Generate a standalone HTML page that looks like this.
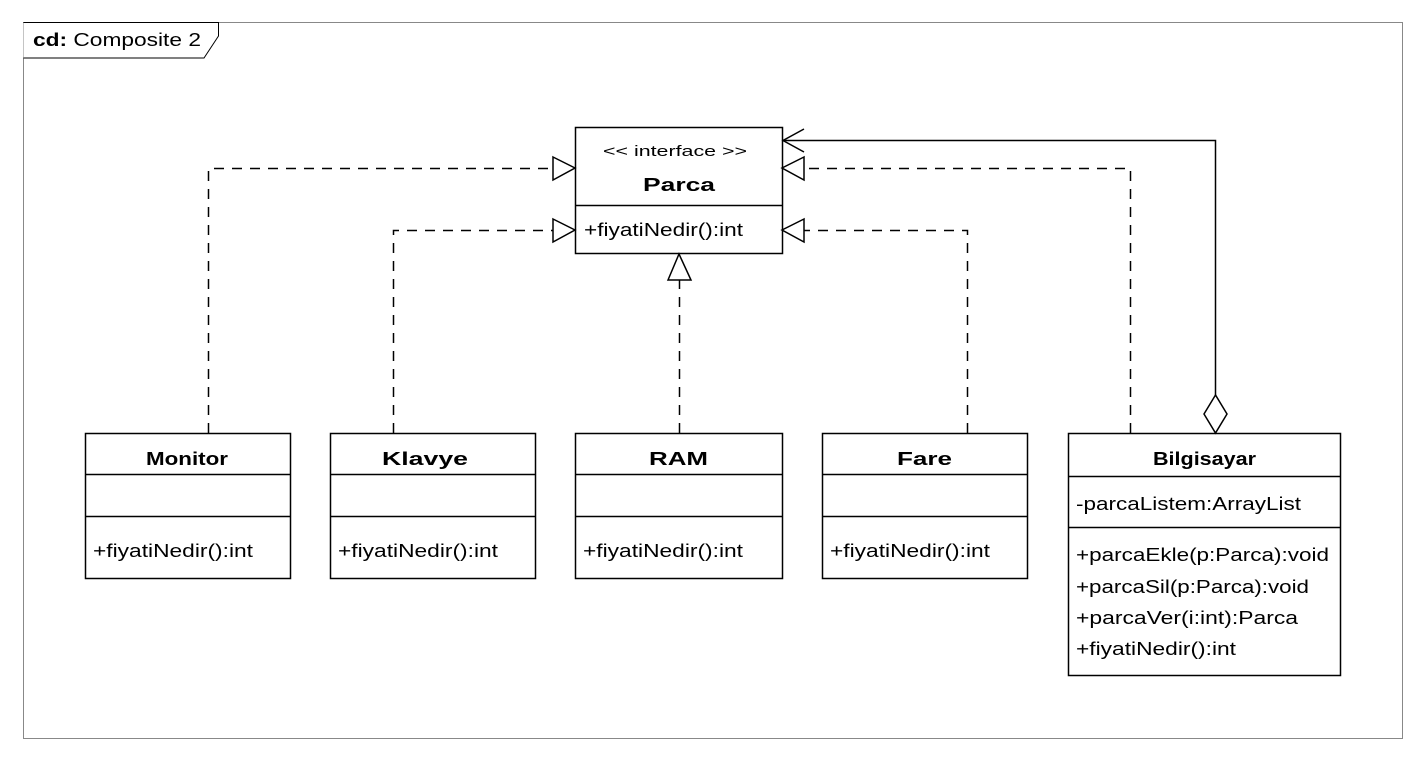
<!DOCTYPE html>
<html><head><meta charset="utf-8"><style>
body{margin:0;background:#fff}
text{font-family:"Liberation Sans",sans-serif;font-size:18px;fill:#000}
.b{font-weight:bold}
</style></head><body>
<svg width="1426" height="760" xmlns="http://www.w3.org/2000/svg">
<rect x="23.5" y="22.5" width="1379" height="716" fill="none" stroke="#888"/>
<path d="M23.5 22.5H218.5V36L204 58H23.5" fill="#fff" stroke="#000"/>
<text x="33" y="46" textLength="168" lengthAdjust="spacingAndGlyphs"><tspan class="b">cd:</tspan> Composite 2</text>
<g fill="#fff" stroke="#000" stroke-width="1.5">
<rect x="575.5" y="127.5" width="207" height="126"/>
<line x1="575" y1="205.5" x2="782" y2="205.5"/>
<rect x="85.5" y="433.5" width="205" height="145"/>
<line x1="85" y1="474.5" x2="290" y2="474.5"/><line x1="85" y1="516.5" x2="290" y2="516.5"/>
<rect x="330.5" y="433.5" width="205" height="145"/>
<line x1="330" y1="474.5" x2="535" y2="474.5"/><line x1="330" y1="516.5" x2="535" y2="516.5"/>
<rect x="575.5" y="433.5" width="207" height="145"/>
<line x1="575" y1="474.5" x2="782" y2="474.5"/><line x1="575" y1="516.5" x2="782" y2="516.5"/>
<rect x="822.5" y="433.5" width="205" height="145"/>
<line x1="822" y1="474.5" x2="1027" y2="474.5"/><line x1="822" y1="516.5" x2="1027" y2="516.5"/>
<rect x="1068.5" y="433.5" width="272" height="242"/>
<line x1="1068" y1="476.5" x2="1340" y2="476.5"/><line x1="1068" y1="527.5" x2="1340" y2="527.5"/>
</g>
<g stroke="#000" fill="none" stroke-dasharray="10,8" stroke-width="1.5">
<path d="M208.5 433V168.5H553"/>
<path d="M393.5 433V230.5H553"/>
<path d="M679.5 433V280"/>
<path d="M967.5 433V230.5H804"/>
<path d="M1130.5 433V168.5H804"/>
</g>
<g stroke="#000" fill="#fff" stroke-width="1.5">
<path d="M553 157L575 168L553 180Z"/>
<path d="M553 219L575 230L553 242Z"/>
<path d="M668 280L679 254L691 280Z"/>
<path d="M804 219L782 230L804 242Z"/>
<path d="M804 157L782 168L804 180Z"/>
<path d="M1215.5 395V140.5H783" fill="none"/>
<path d="M804 129L783 140.5L804 152" fill="none"/>
<path d="M1215.5 395L1204 414L1215.5 433L1227 414Z"/>
</g>
<text x="603" y="156" style="font-size:15px" textLength="144" lengthAdjust="spacingAndGlyphs">&lt;&lt; interface &gt;&gt;</text>
<text x="643" y="191" class="b" textLength="72" lengthAdjust="spacingAndGlyphs">Parca</text>
<text x="146" y="465" class="b" textLength="82" lengthAdjust="spacingAndGlyphs">Monitor</text>
<text x="382" y="465" class="b" textLength="86" lengthAdjust="spacingAndGlyphs">Klavye</text>
<text x="649" y="465" class="b" textLength="59" lengthAdjust="spacingAndGlyphs">RAM</text>
<text x="897" y="465" class="b" textLength="55" lengthAdjust="spacingAndGlyphs">Fare</text>
<text x="1153" y="465" class="b" textLength="103" lengthAdjust="spacingAndGlyphs">Bilgisayar</text>
<text x="584" y="236" textLength="159" lengthAdjust="spacingAndGlyphs">+fiyatiNedir():int</text>
<text x="93" y="557" textLength="160" lengthAdjust="spacingAndGlyphs">+fiyatiNedir():int</text>
<text x="338" y="557" textLength="160" lengthAdjust="spacingAndGlyphs">+fiyatiNedir():int</text>
<text x="583" y="557" textLength="160" lengthAdjust="spacingAndGlyphs">+fiyatiNedir():int</text>
<text x="830" y="557" textLength="160" lengthAdjust="spacingAndGlyphs">+fiyatiNedir():int</text>
<text x="1076" y="510" textLength="225" lengthAdjust="spacingAndGlyphs">-parcaListem:ArrayList</text>
<text x="1076" y="561" textLength="253" lengthAdjust="spacingAndGlyphs">+parcaEkle(p:Parca):void</text>
<text x="1076" y="593" textLength="233" lengthAdjust="spacingAndGlyphs">+parcaSil(p:Parca):void</text>
<text x="1076" y="624" textLength="222" lengthAdjust="spacingAndGlyphs">+parcaVer(i:int):Parca</text>
<text x="1076" y="655" textLength="160" lengthAdjust="spacingAndGlyphs">+fiyatiNedir():int</text>
</svg>
</body></html>
